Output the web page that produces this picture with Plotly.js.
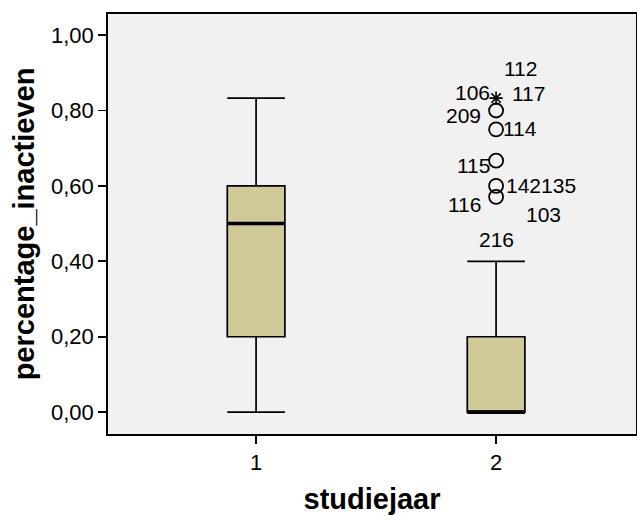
<!DOCTYPE html>
<html><head><meta charset="utf-8">
<script src="https://cdn.plot.ly/plotly-3.0.1.min.js"></script>
<style>html,body{margin:0;padding:0;background:#fff}</style>
</head><body><div id="chart" style="width:637px;height:520px"></div>
<script>
// Data
const groups = [1, 2];
const lowerFence = [0.00, 0.00];
const q1 = [0.20, 0.00];
const median = [0.50, 0.00];
const q3 = [0.60, 0.20];
const upperFence = [0.833, 0.40];

// outliers (group 2)
const outlierValues = [0.80, 0.75, 0.667, 0.60, 0.571];
const extremeValues = [0.833];

// case labels
const caseLabels = ["112", "106", "117", "209", "114", "115", "142135", "116", "103", "216"];
const caseValues = [0.833, 0.833, 0.833, 0.80, 0.75, 0.667, 0.60, 0.571, 0.571, 0.571];
const labelDx = [24, -24, 32, -33, 24, -23, 45, -32, 47, 0];
const labelDy = [30, 6, 5, -5, 1, -5, 0, -8, -18, -43];

const FONT = 'Liberation Sans, Arial, sans-serif';
const fill = '#cfca98';
const traces = [];
groups.forEach((g, i) => {
  traces.push({
    type: 'box', x: [g], q1: [q1[i]], median: [median[i]], q3: [q3[i]],
    lowerfence: [lowerFence[i]], upperfence: [upperFence[i]],
    width: 0.24, whiskerwidth: 1, boxpoints: false,
    fillcolor: fill, line: {color: '#000', width: 1.7},
    hoverinfo: 'skip', showlegend: false
  });
  traces.push({
    type: 'scatter', mode: 'lines', x: [g - 0.12, g + 0.12], y: [median[i], median[i]],
    line: {color: '#000', width: 3.5}, showlegend: false, hoverinfo: 'skip'
  });
});
traces.push({
  type: 'scatter', mode: 'markers', x: outlierValues.map(() => 2), y: outlierValues,
  marker: {symbol: 'circle-open', size: 14, color: '#000', line: {width: 1.8, color: '#000'}},
  showlegend: false
});
traces.push({
  type: 'scatter', mode: 'markers', x: extremeValues.map(() => 2), y: extremeValues,
  marker: {symbol: 'asterisk-open', size: 11, color: '#000', line: {width: 1.6, color: '#000'}},
  showlegend: false
});

const annotations = caseLabels.map((t, i) => ({
  x: 2, y: caseValues[i], xref: 'x', yref: 'y', text: t, showarrow: false,
  xshift: labelDx[i], yshift: labelDy[i],
  font: {family: FONT, size: 21, color: '#000'}
}));

const layout = {
  width: 637, height: 520,
  margin: {l: 108, r: 1, t: 14, b: 86},
  paper_bgcolor: '#fff', plot_bgcolor: '#f0f1f0',
  separators: ',.',
  font: {family: FONT, size: 22, color: '#000'},
  xaxis: {
    range: [0.383, 2.583], tickvals: groups, ticktext: groups.map(String),
    ticks: 'outside', ticklen: 8, tickwidth: 1.8, tickcolor: '#000',
    showgrid: false, zeroline: false, showline: true, linecolor: '#000', linewidth: 1.8, mirror: true,
    title: {text: 'studiejaar', font: {size: 29, family: FONT, weight: 'bold'}, standoff: 14}
  },
  yaxis: {
    range: [-0.058, 1.056], tickvals: [0, 0.2, 0.4, 0.6, 0.8, 1.0], tickformat: '.2f',
    ticks: 'outside', ticklen: 8, tickwidth: 1.8, tickcolor: '#000',
    showgrid: false, zeroline: false, showline: true, linecolor: '#000', linewidth: 1.8, mirror: true,
    title: {text: 'percentage_inactieven', font: {size: 29, family: FONT, weight: 'bold'}, standoff: 8}
  },
  annotations: annotations
};
Plotly.newPlot('chart', traces, layout, {displayModeBar: false, staticPlot: true});
</script></body></html>
